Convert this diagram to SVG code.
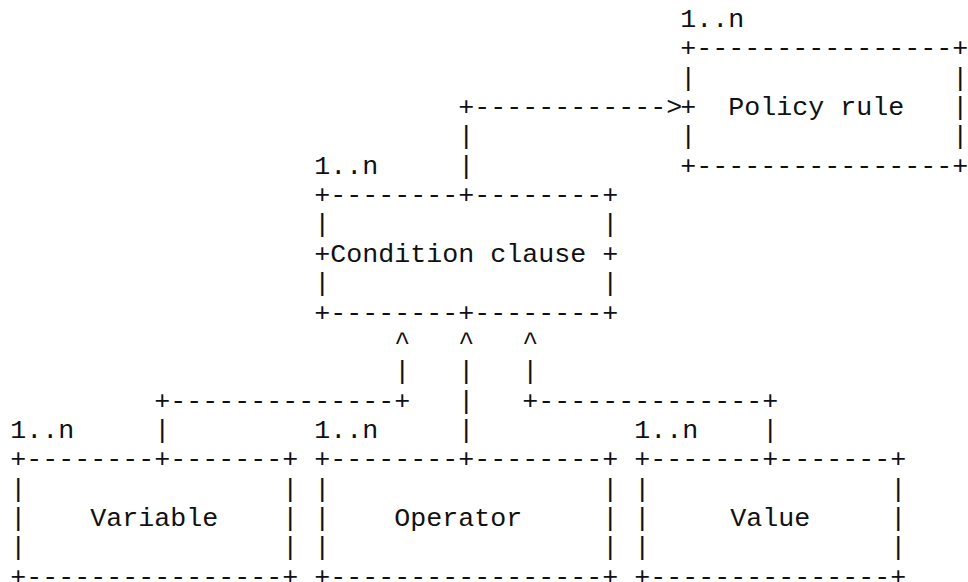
<svg xmlns="http://www.w3.org/2000/svg" width="968" height="582" viewBox="0 0 968 582">
  <style>
    /* character grid: 16px columns (x = 10.3 + 16*col), 29.35px rows (baseline = 27 + 29.35*row) */
    text { font-family: "Liberation Mono", "Courier New", monospace; font-size: 26.67px; fill: #111; white-space: pre; }
  </style>
  <rect width="968" height="582" fill="#fff"/>

  <!-- Policy rule (col 42, nudged left to stay inside the right edge) -->
  <g id="policy-rule" xml:space="preserve">
    <text x="680.3" y="27">1..n</text>
    <text x="680.3" y="56.35">+----------------+</text>
    <text x="680.3" y="85.7">|                |</text>
    <text x="680.3" y="115.05">+  Policy rule   |</text>
    <text x="680.3" y="144.4">|                |</text>
    <text x="680.3" y="173.75">+----------------+</text>
  </g>

  <!-- Condition clause (col 19) -->
  <g id="condition-clause" xml:space="preserve">
    <text x="314.3" y="173.75">1..n</text>
    <text x="314.3" y="203.1">+--------+--------+</text>
    <text x="314.3" y="232.45">|                 |</text>
    <text x="314.3" y="261.8">+Condition clause +</text>
    <text x="314.3" y="291.15">|                 |</text>
    <text x="314.3" y="320.5">+--------+--------+</text>
  </g>

  <!-- Variable (col 0) -->
  <g id="variable" xml:space="preserve">
    <text x="10.3" y="437.9">1..n</text>
    <text x="10.3" y="467.25">+--------+-------+</text>
    <text x="10.3" y="496.6">|                |</text>
    <text x="10.3" y="525.95">|    Variable    |</text>
    <text x="10.3" y="555.3">|                |</text>
    <text x="10.3" y="584.65">+----------------+</text>
  </g>

  <!-- Operator (col 19) -->
  <g id="operator" xml:space="preserve">
    <text x="314.3" y="437.9">1..n</text>
    <text x="314.3" y="467.25">+--------+--------+</text>
    <text x="314.3" y="496.6">|                 |</text>
    <text x="314.3" y="525.95">|    Operator     |</text>
    <text x="314.3" y="555.3">|                 |</text>
    <text x="314.3" y="584.65">+-----------------+</text>
  </g>

  <!-- Value (col 39) -->
  <g id="value" xml:space="preserve">
    <text x="634.3" y="437.9">1..n</text>
    <text x="634.3" y="467.25">+-------+-------+</text>
    <text x="634.3" y="496.6">|               |</text>
    <text x="634.3" y="525.95">|     Value     |</text>
    <text x="634.3" y="555.3">|               |</text>
    <text x="634.3" y="584.65">+---------------+</text>
  </g>

  <!-- Connectors -->
  <g id="connectors" xml:space="preserve">
    <!-- condition clause up to policy rule -->
    <text x="458.3" y="115.05">+------------&gt;</text>
    <text x="458.3" y="144.4">|</text>
    <text x="458.3" y="173.75">|</text>
    <!-- variable / operator / value up to condition clause -->
    <text x="394.3" y="349.85">^   ^   ^</text>
    <text x="394.3" y="379.2">|   |   |</text>
    <text x="154.3" y="408.55">+--------------+   |   +--------------+</text>
    <text x="154.3" y="437.9">|</text>
    <text x="458.3" y="437.9">|</text>
    <text x="762.3" y="437.9">|</text>
  </g>
</svg>
